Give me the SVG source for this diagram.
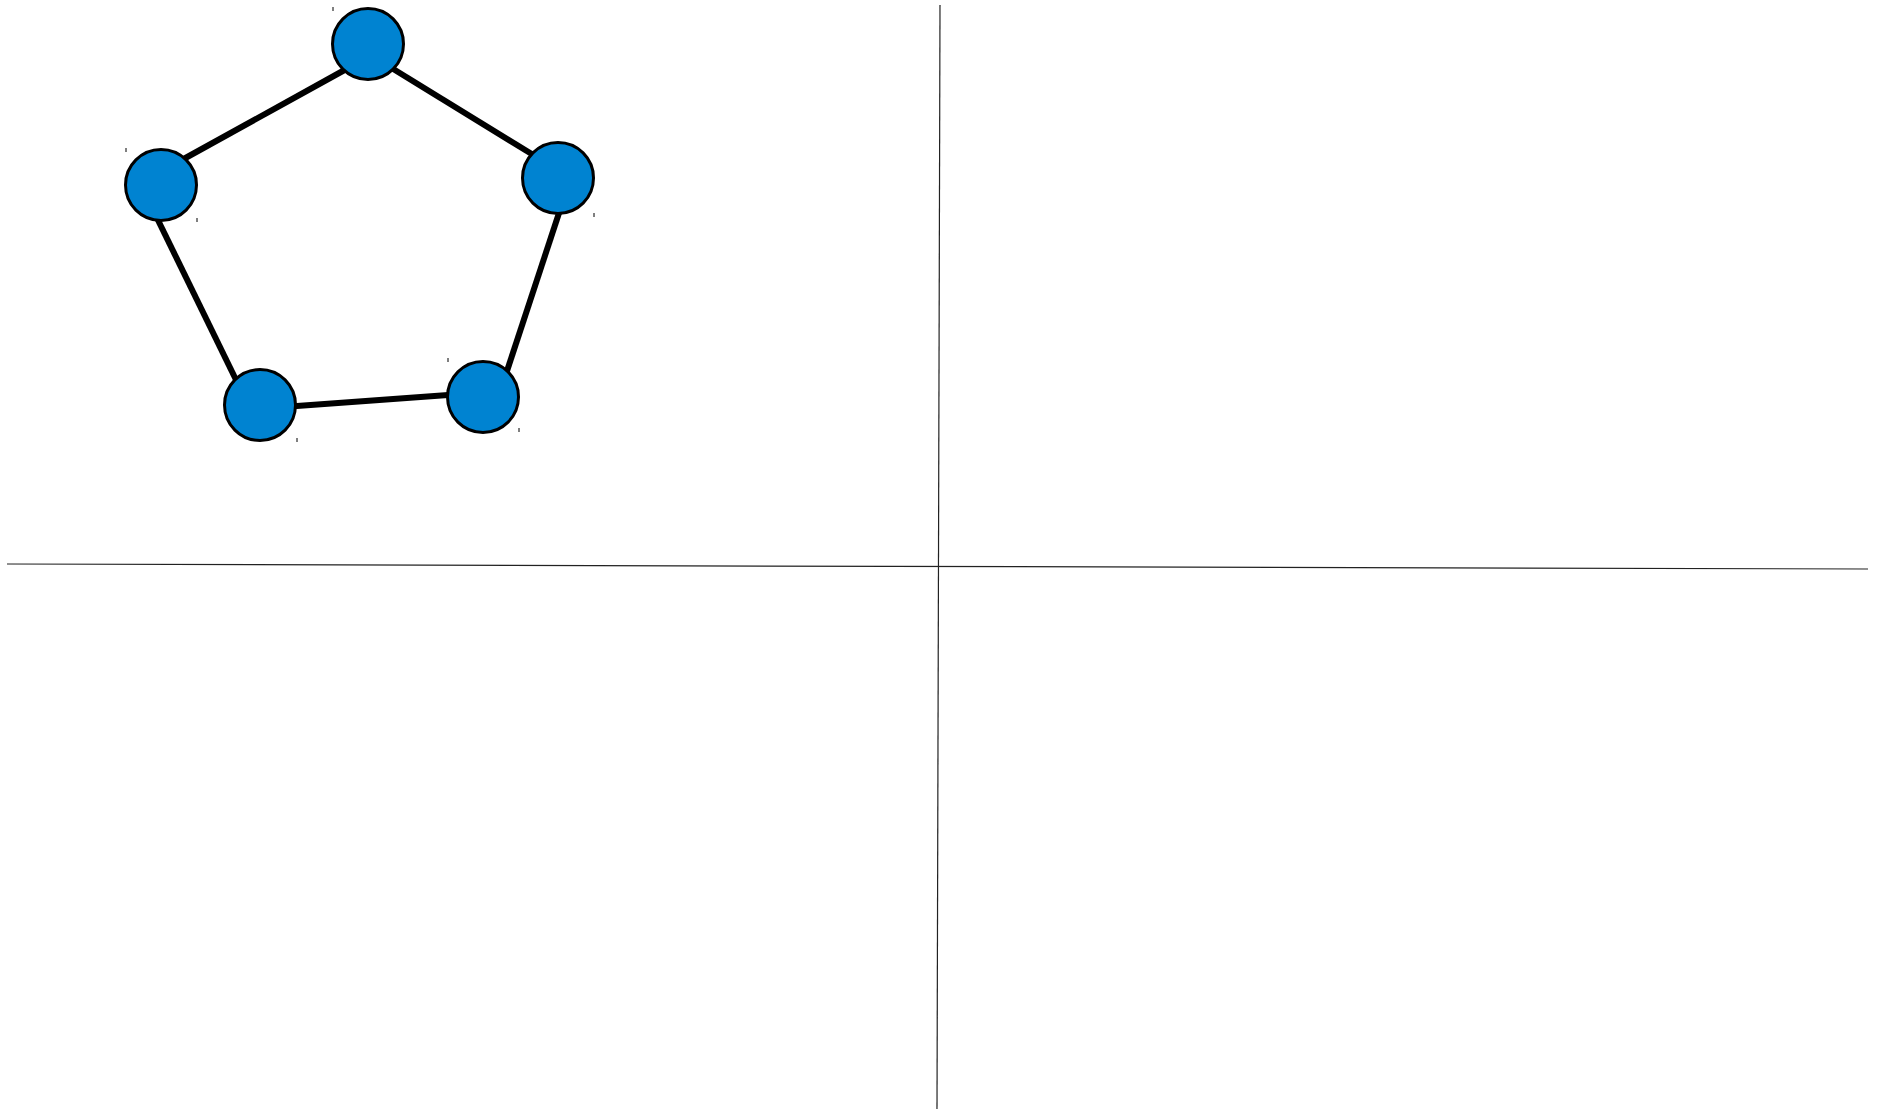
<svg xmlns="http://www.w3.org/2000/svg" width="1882" height="1109" viewBox="0 0 1882 1109">
<style>
.edge{stroke:#000;stroke-width:6;fill:none}
.axis{stroke:#222;stroke-width:1.2;fill:none}
.node{fill:#0083d1;stroke:#000;stroke-width:3}
.tick{stroke:#000;stroke-width:1;fill:none}
</style>
<rect width="1882" height="1109" fill="#fff"/>
<g id="axes">
<line class="axis" x1="940" y1="5" x2="937" y2="1109"/>
<line class="axis" x1="7" y1="564" x2="1868" y2="569"/>
</g>
<g id="connectors">
<line class="edge" x1="350" y1="67" x2="180" y2="161"/>
<line class="edge" x1="390" y1="67" x2="535" y2="156"/>
<line class="edge" x1="560" y1="210" x2="506" y2="374"/>
<line class="edge" x1="455" y1="394.5" x2="290" y2="406.5"/>
<line class="edge" x1="240" y1="388" x2="156" y2="216"/>
</g>
<g id="n1"><circle class="node" cx="368" cy="44" r="35.5"/><line class="tick" x1="333" y1="7" x2="333" y2="11"/></g>
<g id="n2"><circle class="node" cx="161" cy="185" r="35.5"/><line class="tick" x1="126" y1="148" x2="126" y2="152"/><line class="tick" x1="197" y1="218" x2="197" y2="222"/></g>
<g id="n3"><circle class="node" cx="558" cy="178" r="35.5"/><line class="tick" x1="594" y1="213" x2="594" y2="217"/></g>
<g id="n4"><circle class="node" cx="260" cy="405" r="35.5"/><line class="tick" x1="297" y1="438" x2="297" y2="442"/></g>
<g id="n5"><circle class="node" cx="483" cy="397" r="35.5"/><line class="tick" x1="448" y1="358" x2="448" y2="362"/><line class="tick" x1="519" y1="428" x2="519" y2="432"/></g>
</svg>
